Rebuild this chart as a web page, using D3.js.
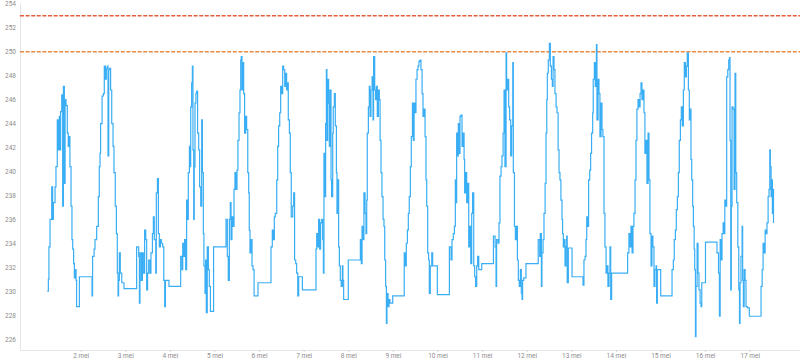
<!DOCTYPE html>
<html>
<head>
<meta charset="utf-8">
<script src="https://cdn.jsdelivr.net/npm/d3@7"></script>
<style>
  html, body { margin: 0; padding: 0; background: #ffffff; }
  svg { display: block; font-family: Roboto, "Noto Sans", sans-serif; }
</style>
</head>
<body>
<svg id="chart" width="800" height="364"></svg>
<script>
// ---- data (hours since 1 mei 00:00 UTC, voltage) ----
const baseDate = Date.UTC(2024, 4, 1, 0, 0);
const readings = [
  // 1 mei
  [6.0,230.0],[6.6,231.0],[6.9,233.7],[7.5,236.0],[8.4,238.7],[8.9,236.0],[9.3,237.4],[10.2,238.7],[10.7,240.4],[11.4,244.3],[12.0,241.8],[12.5,244.6],[12.9,241.8],[13.2,245.0],[13.8,246.4],[14.3,237.1],[14.7,247.1],[15.2,239.0],[15.6,246.0],[16.1,245.5],[16.8,243.2],[17.3,242.1],[17.9,242.9],[18.2,240.4],[18.8,237.1],[19.3,234.3],[19.7,233.5],[20.2,232.3],[20.6,231.1],[21.1,231.8],[21.5,230.9],[21.8,228.7],[23.3,231.2],
  // 2 mei
  [30.1,229.6],[30.4,232.9],[31.2,233.5],[31.7,234.3],[32.6,235.4],[33.5,237.9],[34.0,240.4],[34.4,241.5],[34.7,244.0],[35.5,246.3],[36.2,246.5],[36.7,248.8],[37.3,247.7],[37.8,248.6],[38.3,248.8],[38.7,241.3],[39.1,248.5],[39.6,248.6],[40.1,246.8],[40.7,244.0],[41.4,242.1],[41.9,239.9],[42.6,237.1],[43.2,234.8],[43.7,231.5],[44.1,229.6],[44.4,230.9],[44.8,233.2],[45.3,231.5],[46.1,230.7],[47.3,230.2],
  // 3 mei
  [54.1,233.7],[55.2,232.9],[55.6,229.0],[55.9,233.2],[56.6,230.9],[57.2,233.2],[57.7,231.5],[58.4,235.1],[59.0,234.3],[59.5,230.1],[60.0,231.5],[60.6,232.6],[61.3,231.5],[61.8,233.2],[62.6,234.8],[63.1,236.2],[63.6,234.3],[64.4,231.5],[64.7,238.2],[65.3,239.4],[65.8,234.8],[66.3,233.7],[66.9,234.3],[67.4,234.0],[68.1,233.7],[68.7,230.9],[69.2,228.7],[69.6,230.9],[71.5,230.4],
  // 4 mei
  [77.8,232.9],[78.5,231.8],[78.9,234.0],[79.4,232.9],[79.9,234.3],[80.5,231.8],[81.0,237.6],[81.4,236.0],[81.9,239.9],[82.5,242.1],[82.8,240.4],[83.2,245.4],[83.7,247.4],[84.1,248.8],[84.4,241.8],[84.8,236.0],[85.1,240.4],[85.5,245.7],[86.0,246.5],[86.4,246.7],[86.9,243.2],[87.5,241.8],[88.0,238.7],[88.6,237.1],[89.1,244.3],[89.5,239.9],[90.0,234.8],[90.3,232.1],[90.9,229.8],[91.2,232.6],[91.6,228.2],[92.1,233.7],[92.7,231.8],[93.2,230.4],[93.8,228.3],[95.5,233.7],
  // 5 mei
  [102.2,236.0],[102.9,232.9],[103.4,230.9],[104.0,236.0],[104.5,237.4],[104.9,234.3],[105.4,236.2],[105.9,235.4],[106.5,238.5],[107.0,239.9],[107.6,238.5],[108.1,240.1],[108.6,242.6],[109.2,244.9],[109.7,246.8],[110.1,249.3],[110.4,249.6],[110.8,246.8],[111.2,249.1],[111.7,246.5],[112.2,243.2],[112.8,244.6],[113.3,243.5],[113.9,239.9],[114.4,238.2],[114.7,235.1],[115.1,233.2],[115.6,234.3],[116.2,232.1],[116.7,231.8],[117.3,229.6],[119.4,230.7],
  // 6 mei
  [126.4,233.7],[127.1,235.1],[127.7,234.3],[128.2,236.2],[128.7,236.5],[129.5,239.3],[130.0,242.1],[130.5,243.8],[131.1,244.9],[131.6,247.1],[132.2,246.5],[132.7,248.8],[133.2,248.5],[133.8,247.1],[134.3,248.2],[134.8,246.8],[135.2,247.4],[135.7,244.3],[136.3,243.2],[136.8,239.9],[137.3,236.2],[138.1,237.1],[138.6,238.2],[139.1,232.6],[139.7,232.3],[140.2,231.5],[140.8,229.6],[141.3,231.2],[143.3,230.1],
  // 7 mei
  [150.6,233.5],[151.0,234.8],[151.5,233.7],[152.0,236.0],[152.6,233.5],[153.1,235.7],[153.7,236.0],[154.2,234.3],[154.6,231.5],[154.9,241.5],[155.3,237.9],[155.8,244.0],[156.2,248.5],[156.5,242.6],[156.9,247.7],[157.4,245.7],[157.8,242.1],[158.1,246.8],[158.7,239.3],[159.0,237.9],[159.6,243.2],[159.9,245.4],[160.5,246.5],[161.0,243.8],[161.6,239.9],[161.9,236.5],[162.5,239.3],[162.8,233.7],[163.2,232.1],[163.7,230.9],[164.2,230.4],[164.8,232.1],[165.1,230.9],[165.5,229.3],[168.0,232.6],
  // 8 mei
  [174.5,234.3],[175.0,232.3],[175.4,235.4],[175.9,234.3],[176.4,238.2],[177.0,236.5],[177.5,234.8],[177.9,237.6],[178.2,243.2],[178.8,245.4],[179.3,247.1],[179.7,244.6],[180.2,246.8],[180.8,247.9],[181.3,244.3],[181.6,249.6],[182.2,246.8],[182.7,246.0],[183.1,247.1],[183.6,244.6],[184.2,246.8],[184.7,246.0],[185.1,242.6],[185.6,239.9],[186.1,237.9],[186.7,236.0],[187.2,235.4],[187.6,232.6],[188.1,230.4],[188.5,227.3],[188.8,229.8],[189.4,228.7],[189.9,229.3],[190.4,229.0],[191.9,229.6],
  // 9 mei
  [198.1,233.2],[198.7,232.1],[199.2,234.0],[199.8,235.1],[200.3,236.5],[200.8,237.9],[201.4,240.4],[201.9,242.9],[202.5,245.7],[203.0,242.6],[203.4,245.7],[203.9,244.9],[204.4,247.7],[205.0,248.5],[205.5,248.8],[206.0,249.2],[206.6,249.3],[207.1,248.5],[207.7,246.5],[208.2,244.6],[208.7,245.2],[209.3,242.9],[209.8,239.3],[210.2,237.1],[210.7,233.2],[211.2,232.6],[211.6,229.8],[212.1,232.1],[212.9,233.2],[213.4,232.1],[215.9,229.7],
  // 10 mei
  [222.4,233.7],[223.3,232.6],[223.8,234.3],[224.5,234.8],[225.1,235.4],[225.6,239.3],[226.0,237.4],[226.3,243.2],[226.9,241.3],[227.2,244.0],[227.7,241.5],[228.1,244.6],[228.6,244.7],[229.2,242.1],[229.7,243.2],[230.3,241.0],[230.6,238.2],[231.2,239.9],[231.7,237.4],[232.2,239.0],[232.8,233.7],[233.3,235.4],[233.9,232.3],[234.4,236.5],[234.9,238.2],[235.5,232.1],[236.0,231.2],[236.5,230.4],[237.1,232.1],[237.6,232.9],[238.2,231.8],[239.8,232.3],
  // 11 mei
  [246.1,234.6],[247.0,233.7],[247.5,230.4],[247.8,234.3],[248.6,234.0],[249.1,235.7],[249.6,239.6],[250.2,240.4],[250.7,241.3],[251.3,243.2],[251.8,246.8],[252.3,240.4],[252.9,249.9],[253.2,246.8],[253.8,247.7],[254.3,245.4],[254.8,244.3],[255.4,241.3],[255.9,243.8],[256.5,249.1],[256.8,239.9],[257.4,235.4],[257.9,234.3],[258.4,235.4],[259.0,232.6],[259.5,230.9],[260.0,230.4],[260.6,231.8],[261.1,229.8],[261.5,229.3],[261.8,230.9],[262.4,231.1],[263.6,232.3],
  // 12 mei
  [270.2,234.3],[271.0,232.9],[271.3,234.8],[271.9,230.4],[272.2,233.2],[272.8,234.3],[273.3,236.5],[273.9,239.0],[274.4,243.2],[274.8,246.0],[275.1,248.2],[275.6,249.3],[276.2,250.7],[276.7,248.8],[277.3,247.7],[277.8,247.1],[278.2,249.6],[278.7,248.5],[279.2,246.5],[279.8,245.4],[280.3,244.9],[280.9,241.8],[281.4,239.9],[281.9,239.3],[282.4,237.6],[283.0,236.0],[283.3,234.8],[283.7,233.7],[284.2,234.3],[284.6,232.1],[285.1,233.7],[285.5,234.6],[285.8,230.7],[286.4,233.6],[288.4,231.2],
  // 13 mei
  [294.3,230.5],[294.8,232.6],[295.4,232.9],[295.9,234.3],[296.3,236.2],[296.8,235.4],[297.3,239.3],[297.9,240.1],[298.4,241.5],[298.9,243.2],[299.5,244.9],[299.8,247.7],[300.4,249.1],[300.9,247.1],[301.5,250.6],[301.8,244.3],[302.4,247.7],[302.9,246.5],[303.4,242.9],[304.0,245.7],[304.5,243.5],[305.0,242.9],[305.6,236.5],[306.1,233.7],[306.7,231.5],[307.2,232.1],[307.7,230.4],[308.3,231.5],[308.8,233.7],[309.2,229.3],[309.7,231.5],
  // 14 mei
  [318.3,233.2],[319.0,234.8],[319.6,233.7],[320.1,235.4],[320.7,233.2],[321.2,235.4],[321.7,236.5],[322.3,239.3],[322.8,242.6],[323.3,245.2],[323.9,246.0],[324.4,245.4],[325.0,246.5],[325.5,247.4],[326.0,246.0],[326.6,246.8],[327.1,244.9],[327.6,241.5],[328.2,242.6],[328.7,239.0],[329.3,243.2],[329.8,239.3],[330.3,234.8],[330.9,232.1],[331.4,234.6],[331.9,233.7],[332.5,230.4],[333.0,231.8],[333.6,232.1],[333.9,229.0],[334.3,231.8],[336.1,229.6],
  // 15 mei
  [342.2,231.8],[342.9,232.6],[343.4,234.3],[344.0,235.1],[344.5,236.8],[345.1,237.9],[345.6,239.9],[346.1,242.6],[346.7,244.3],[347.2,245.4],[347.7,243.8],[348.3,246.8],[348.8,249.1],[349.4,247.9],[349.9,248.8],[350.4,249.9],[351.0,246.8],[351.5,244.3],[352.0,245.2],[352.4,241.0],[352.8,239.3],[353.3,237.1],[353.7,235.4],[354.1,233.5],[354.4,231.8],[354.8,226.2],[355.1,230.4],[355.7,234.0],[356.2,231.5],[356.7,230.1],[357.3,229.0],[357.8,228.7],[358.2,230.7],[360.2,234.1],
  // 16 mei
  [366.4,233.2],[367.2,231.5],[367.7,227.9],[368.1,234.3],[368.6,232.6],[369.1,234.8],[369.7,235.7],[370.2,234.8],[370.6,237.6],[371.1,237.1],[371.6,247.9],[372.2,248.5],[372.7,249.3],[373.1,249.5],[373.4,242.6],[373.8,230.1],[374.1,237.1],[374.5,245.4],[375.0,245.2],[375.6,238.5],[376.1,248.2],[376.5,239.9],[377.0,237.4],[377.6,233.7],[378.1,230.1],[378.5,227.3],[378.8,230.7],[379.3,232.9],[379.9,235.4],[380.2,230.9],[380.6,228.7],[381.0,231.8],[381.5,230.9],[382.0,228.7],[382.8,228.6],[383.8,227.9],
  // 17 mei
  [390.1,230.4],[390.7,231.8],[391.2,234.0],[391.7,233.2],[392.3,235.1],[392.8,234.8],[393.3,235.7],[393.9,237.9],[394.4,238.5],[394.8,241.8],[395.1,240.4],[395.5,237.9],[395.9,239.3],[396.2,236.5],[396.6,238.5],[396.8,235.7]
];
const thresholds = [253, 250];
const thresholdColors = ["#ea5a3c", "#ec8a3e"];
const yTickValues = [226, 228, 230, 232, 234, 236, 238, 240, 242, 244, 246, 248, 250, 252, 254];
const xTickDays = [2, 3, 4, 5, 6, 7, 8, 9, 10, 11, 12, 13, 14, 15, 16, 17];
const xDomainHours = [-8.66, 411.06];
const yDomain = [225.08, 254.07];

// ---- drawing ----
const svg = d3.select("#chart");
const hourMs = 3600 * 1000;
const toDate = h => new Date(baseDate + h * hourMs);

const x = d3.scaleUtc()
  .domain(xDomainHours.map(toDate))
  .range([20, 800]);
const y = d3.scaleLinear().domain(yDomain).range([350, 3]);

const axisColor = "#e3e3e8";
const textColor = "#8c8c8c";

// X axis
const xAxis = svg.append("g")
  .attr("transform", "translate(0,350)")
  .call(d3.axisBottom(x)
    .tickValues(xTickDays.map(d => new Date(Date.UTC(2024, 4, d))))
    .tickFormat(d => d.getUTCDate() + " mei")
    .tickSizeInner(2).tickSizeOuter(0).tickPadding(1));
xAxis.select(".domain").attr("stroke", axisColor);
xAxis.selectAll(".tick line").attr("stroke", "#d6d6dc");
xAxis.selectAll(".tick text").attr("fill", textColor).attr("font-size", "6.5px")
  .attr("font-family", "Roboto, sans-serif");

// Y axis
const yAxis = svg.append("g")
  .attr("transform", "translate(20,0)")
  .call(d3.axisLeft(y).tickValues(yTickValues).tickSize(0).tickPadding(4).tickFormat(d3.format("d")));
yAxis.select(".domain").attr("stroke", axisColor);
yAxis.selectAll(".tick text").attr("fill", textColor).attr("font-size", "6.5px")
  .attr("font-family", "Roboto, sans-serif");

// threshold lines
svg.append("g").selectAll("line").data(thresholds).join("line")
  .attr("x1", 20).attr("x2", 800)
  .attr("y1", d => y(d)).attr("y2", d => y(d))
  .attr("stroke", (d, i) => thresholdColors[i])
  .attr("stroke-width", 1.4)
  .attr("stroke-dasharray", "4,1.6");

// series
const line = d3.line()
  .x(d => x(toDate(d[0])))
  .y(d => y(d[1]))
  .curve(d3.curveStepAfter);

svg.append("path")
  .datum(readings)
  .attr("fill", "none")
  .attr("stroke", "#3aaef4")
  .attr("stroke-width", 1.2)
  .attr("stroke-linejoin", "miter")
  .attr("d", line);
</script>
</body>
</html>
